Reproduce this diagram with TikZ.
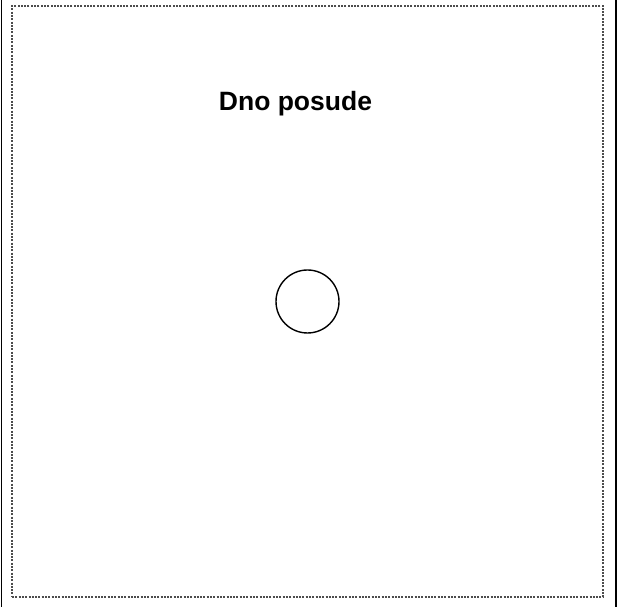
\documentclass[tikz,border=0pt]{standalone}
\usepackage{fontspec}
\setmainfont{Liberation Sans}
\begin{document}
\begin{tikzpicture}[x=1pt,y=1pt,
  solidedge/.style={line width=1.8pt,black},
  dotframe/.style={draw=black!70,line width=1.3pt,dash pattern=on 2pt off 1.3pt},
  hole/.style={circle,draw=black,line width=1.4pt,minimum size=63pt,inner sep=0pt},
  title/.style={font=\bfseries\fontsize{26.5}{30}\selectfont}]
\useasboundingbox (0,0) rectangle (619,607);
\coordinate (lt) at (1.5,607);
\coordinate (lb) at (1.5,0);
\coordinate (rt) at (616,607);
\coordinate (rb) at (616,0);
\draw[solidedge] (lt) -- (lb);
\draw[solidedge] (rt) -- (rb);
\node[dotframe,minimum width=591pt,minimum height=591pt,inner sep=0pt] (frame) at (307.5,305.5) {};
\node[title] (label) at (295.5,503) {Dno posude};
\node[hole] (circ) at (307.5,305.5) {};
\end{tikzpicture}
\end{document}
